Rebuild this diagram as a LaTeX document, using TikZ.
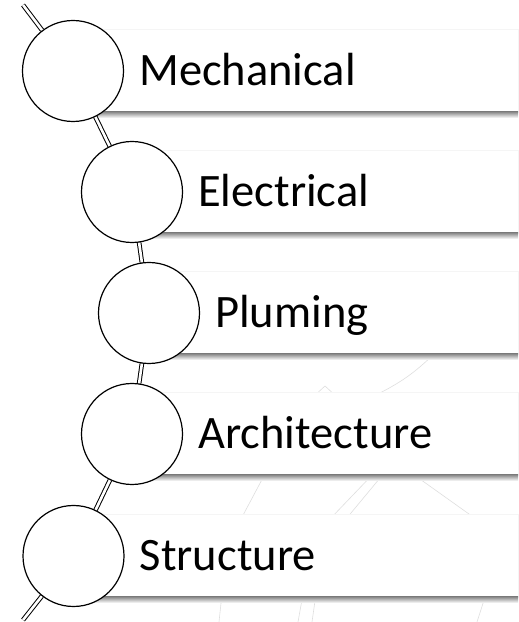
\documentclass[tikz,border=0pt]{standalone}
\usepackage{fontspec}
\setmainfont{Carlito}
\usetikzlibrary{positioning, backgrounds}

\begin{document}
\begin{tikzpicture}[x=1pt, y=1pt]
			\tikzset{ stage/.style={circle, draw, line width=1.2pt, fill=white, minimum size=101pt, inner sep=0pt},
				link/.style={double, double distance=2.6pt, line width=1pt},
				stagetext/.style={inner sep=0pt, text height=30pt, text depth=0pt, font=\fontsize{46.5}{50}\selectfont},
				band/.style={fill=white, draw=black!4, line width=0.6pt},
				bandshadow/.style={top color=black!45, bottom color=white},
				backline/.style={black!13, line width=0.6pt} }
			\useasboundingbox (0,0) rectangle (519,622);
			
			\node[stage] (mech) at (73,551) {};
			\node[stage] (elec) at (132,430) {};
			\node[stage] (plum) at (149,309) {};
			\node[stage] (arch) at (132,188) {};
			\node[stage] (struc) at (73.5,66) {};
			\coordinate (topend) at (23,617);
			\coordinate (botend) at (23,2);
			
			\node[stagetext, right=15pt of mech] (mechtext) {Mechanical};
			\node[stagetext, right=15pt of elec] (electext) {Electrical};
			\node[stagetext, right=15pt of plum] (plumtext) {Pluming};
			\node[stagetext, right=15pt of arch] (archtext) {Architecture};
			\node[stagetext, right=15pt of struc] (structext) {Structure};
			
			\begin{scope}[on background layer]
				% faint sketch behind the bands
				\draw[backline] (433,267) to[bend left=8] (380,229);
				\draw[backline] (313,225) -- (325,236) -- (337,225);
				\draw[backline] (266,150) -- (241,103);
				\draw[backline] (375,150) -- (330,103);
				\draw[backline] (385,150) -- (346,103);
				\draw[backline] (410,150) -- (476,103);
				\draw[backline] (222,28) -- (219,0);
				\draw[backline] (303,28) -- (298,0);
				\draw[backline] (316,28) -- (312,0);
				\draw[backline] (486,28) -- (477,0);
				
				\path[band] (73,510) rectangle (518,593);
				\shade[bandshadow] (73,510) rectangle (518,504);
				\path[band] (132,389) rectangle (518,472);
				\shade[bandshadow] (132,389) rectangle (518,383);
				\path[band] (149,268) rectangle (518,351);
				\shade[bandshadow] (149,268) rectangle (518,262);
				\path[band] (132,147) rectangle (518,230);
				\shade[bandshadow] (132,147) rectangle (518,141);
				\path[band] (73.5,25) rectangle (518,108);
				\shade[bandshadow] (73.5,25) rectangle (518,19);
				
				\draw[link]
					(topend) -- (mech)
					(mech) -- (elec)
					(elec) -- (plum)
					(plum) -- (arch)
					(arch) -- (struc)
					(struc) -- (botend);
			\end{scope}
		\end{tikzpicture}
\end{document}
